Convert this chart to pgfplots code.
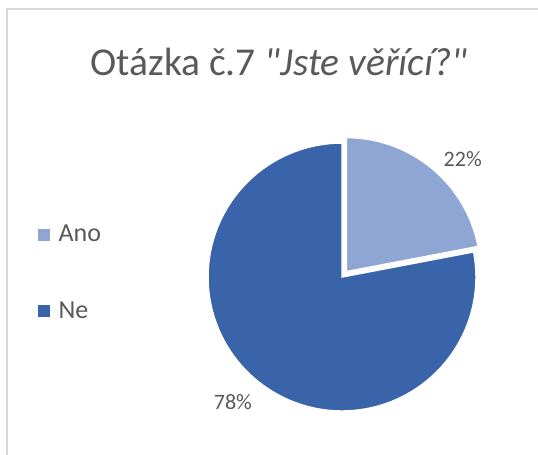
\documentclass[border=0pt]{standalone}
\usepackage{fontspec}
\setmainfont{Carlito}
\usepackage{pgfplots}
\usepackage{pgfplotstable}
\pgfplotsset{compat=1.18}
\usetikzlibrary{calc}
\definecolor{ano}{RGB}{143,165,211}
\definecolor{ne}{RGB}{58,100,170}
\definecolor{txt}{RGB}{89,89,89}
\definecolor{frame}{RGB}{217,217,217}

\pgfplotstableread{
label value
Ano 22
Ne 78
}\piedata

\begin{document}
\begin{tikzpicture}
\pgfplotstablegetelem{0}{value}\of\piedata \let\vA\pgfplotsretval
\pgfplotstablegetelem{1}{value}\of\piedata \let\vB\pgfplotsretval
% clockwise from 12 o'clock
\pgfmathsetmacro{\endA}{90-3.6*\vA}
\pgfmathsetmacro{\midA}{90-1.8*\vA}
\pgfmathsetmacro{\endB}{\endA-3.6*\vB}
\pgfmathsetmacro{\midB}{\endA-1.8*\vB}
\begin{axis}[
    width=538pt, height=455pt, scale only axis,
    xmin=0, xmax=538, ymin=0, ymax=455,
    hide axis, clip=false,
    legend style={at={(axis cs:38,230)}, anchor=north west, draw=none, fill=none,
        font=\fontsize{26}{30}\selectfont\color{txt}, row sep=58pt,
        inner sep=0pt, nodes={inner sep=0pt}},
    legend cell align=left,
    /tikz/every odd column/.append style={column sep=9pt},
    legend image code/.code={\fill[#1] (0pt,-5.5pt) rectangle (11pt,5.5pt);},
]
\addlegendimage{ano}
\addlegendentry{Ano}
\addlegendimage{ne}
\addlegendentry{Ne}

\coordinate (bl) at (axis cs:0,0);
\coordinate (tr) at (axis cs:538,455);

% frame
\draw[frame, line width=2pt] (axis cs:7,0) -- (axis cs:7,446) -- (axis cs:538,446);

% title
\node[txt, font=\fontsize{39.5}{44}\selectfont] at (axis cs:279,393)
    {Otázka č.7 \textit{\textquotedbl Jste věřící?\textquotedbl}};

% wedges
\fill[ne, draw=white, line width=1.5pt] (axis cs:342,178) -- ++(\endA:134pt)
    arc[start angle=\endA, end angle=\endB, radius=134pt] -- cycle;
\fill[ano, draw=white, line width=1.5pt] ($(axis cs:342,178)+(\midA:7pt)$) -- ++(90:134pt)
    arc[start angle=90, end angle=\endA, radius=134pt] -- cycle;

% labels
\node[txt, font=\fontsize{22}{26}\selectfont] at ($(axis cs:342,178)+(\midA-6:169pt)$) {\vA\%};
\node[txt, font=\fontsize{22}{26}\selectfont] at ($(axis cs:342,178)+(\midB-1.5:166pt)$) {\vB\%};
\end{axis}
\pgfresetboundingbox
\path[use as bounding box] (bl) rectangle (tr);
\end{tikzpicture}
\end{document}
